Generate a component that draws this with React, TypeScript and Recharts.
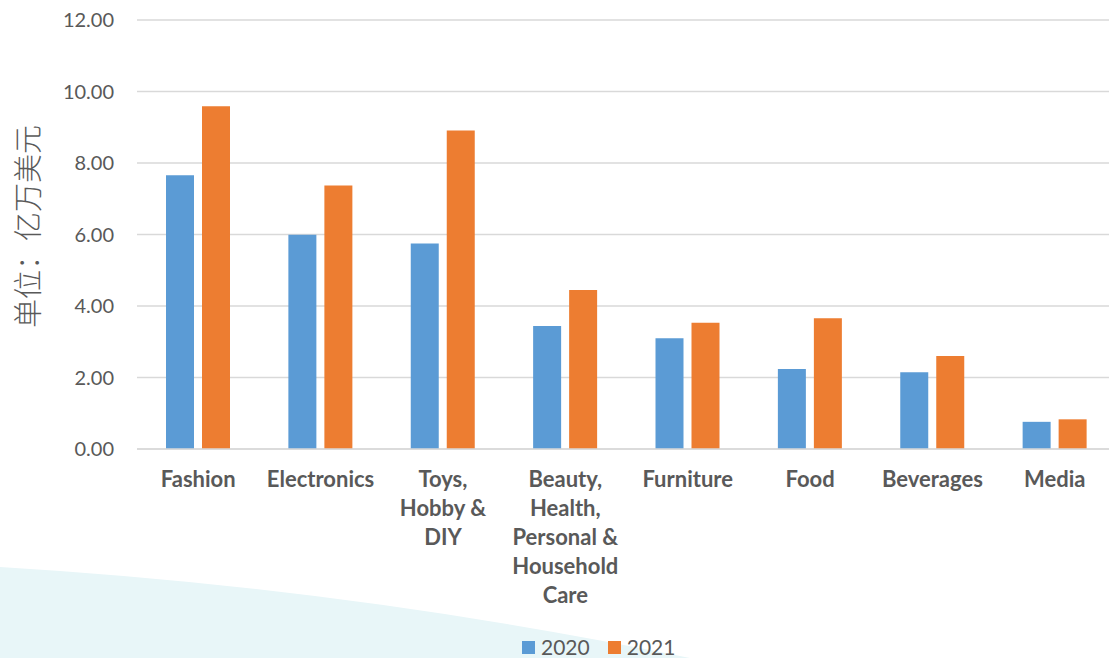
import React from "react";
import { Bar, BarChart, CartesianGrid, Legend, XAxis, YAxis } from "recharts";

const categories = [
  "Fashion",
  "Electronics",
  "Toys,\nHobby &\nDIY",
  "Beauty,\nHealth,\nPersonal &\nHousehold\nCare",
  "Furniture",
  "Food",
  "Beverages",
  "Media",
];
const values2020 = [7.66, 5.99, 5.75, 3.44, 3.1, 2.24, 2.15, 0.76];
const values2021 = [9.59, 7.37, 8.91, 4.45, 3.53, 3.66, 2.6, 0.83];
const yTicks = [0, 2, 4, 6, 8, 10, 12];

const data = categories.map((name, i) => ({
  name,
  y2020: values2020[i],
  y2021: values2021[i],
}));

const FONT = "Lato, 'Open Sans', sans-serif";
const GREY = "#595959";

const CategoryTick = (props: any) => {
  const { x, y, payload } = props;
  const lines = String(payload.value).split("\n");
  return (
    <g>
      {lines.map((line: string, i: number) => (
        <text
          key={i}
          x={x}
          y={y + 38 + i * 29}
          textAnchor="middle"
          fill={GREY}
          fontFamily={FONT}
          fontWeight={700}
          fontSize={22}
        >
          {line}
        </text>
      ))}
    </g>
  );
};

const UnitLabel = (props: any) => {
  const { viewBox } = props;
  const cx = viewBox.x + 26;
  const cy = viewBox.y + viewBox.height / 2 - 8;
  return (
    <text
      x={cx}
      y={cy}
      transform={`rotate(-90, ${cx}, ${cy})`}
      textAnchor="middle"
      dominantBaseline="central"
      fill={GREY}
      fontFamily="'Noto Sans CJK SC', sans-serif"
      fontWeight={300}
      fontSize={29}
    >
      单位：亿万美元
    </text>
  );
};

const LegendContent = (props: any) => {
  const { payload } = props;
  return (
    <div style={{ display: "flex", height: 18, alignItems: "center", fontFamily: FONT, marginTop: 0 }}>
      {(payload || []).map((item: any, i: number) => (
        <div key={i} style={{ display: "flex", alignItems: "center", marginRight: 18 }}>
          <span style={{ width: 13, height: 13, background: item.color, marginRight: 6, display: "inline-block" }} />
          <span style={{ fontSize: 21, color: GREY, lineHeight: "18px" }}>{item.value}</span>
        </div>
      ))}
    </div>
  );
};

export default function App() {
  return (
    <div style={{ position: "absolute", left: 0, top: 0, width: 1109, height: 658, overflow: "hidden", background: "#fff" }}>
      <svg width={1109} height={658} style={{ position: "absolute", left: 0, top: 0 }}>
        <path d="M0,567 Q350,588 690,658 L0,658 Z" fill="#E8F6F8" />
      </svg>
      <div style={{ position: "absolute", left: 0, top: 0 }}>
        <BarChart
          width={1116}
          height={658}
          data={data}
          margin={{ top: 20, right: 0, left: 0, bottom: 2 }}
          barSize={28}
          barGap={8}
        >
          <CartesianGrid vertical={false} stroke="#D9D9D9" strokeWidth={1.5} />
          <XAxis
            dataKey="name"
            interval={0}
            height={189}
            tickLine={false}
            tickSize={0}
            tickMargin={0}
            axisLine={{ stroke: "#D9D9D9", strokeWidth: 1.5 }}
            tick={<CategoryTick />}
          />
          <YAxis
            width={137}
            domain={[0, 12]}
            ticks={yTicks}
            interval={0}
            axisLine={false}
            tickLine={false}
            tickSize={0}
            tickMargin={23}
            tickFormatter={(v: number) => v.toFixed(2)}
            tick={{ fill: GREY, fontFamily: FONT, fontSize: 20 }}
            label={<UnitLabel />}
          />
          <Legend
            verticalAlign="bottom"
            content={<LegendContent />}
            wrapperStyle={{ left: 522, width: "auto" }}
          />
          <Bar dataKey="y2020" name="2020" fill="#5B9BD5" isAnimationActive={false} />
          <Bar dataKey="y2021" name="2021" fill="#ED7D31" isAnimationActive={false} />
        </BarChart>
      </div>
    </div>
  );
}
